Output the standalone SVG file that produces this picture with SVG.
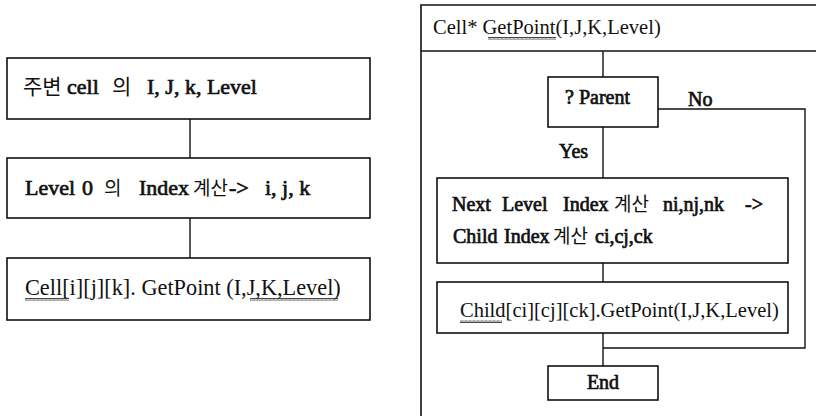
<svg xmlns="http://www.w3.org/2000/svg" width="816" height="416" viewBox="0 0 816 416">
  <defs>
    <style>
      .box { fill: #ffffff; stroke: #111111; stroke-width: 1.6; }
      .frame { fill: none; stroke: #111111; stroke-width: 1.6; }
      .link { fill: none; stroke: #111111; stroke-width: 1.4; }
      .t { font-family: "Liberation Serif", serif; font-size: 20px; fill: #111111; }
      .l { font-size: 22px; }
      .b { stroke: #111111; stroke-width: 0.7; }
      .ko { font-family: "Noto Sans CJK KR", sans-serif; font-size: 19px; stroke: none; }
      .ko21 { font-size: 21px; }
      .sq { fill: none; stroke: #333333; stroke-width: 0.9; }
    </style>
    <!-- small zig-zag used for the squiggly underlines -->
    <pattern id="zig" width="4" height="3" patternUnits="userSpaceOnUse">
      <path d="M0 2.5 L1 0.5 L2 2.5 L3 0.5 L4 2.5" class="sq"/>
    </pattern>
  </defs>
  <rect width="816" height="416" fill="#ffffff"/>

  <!-- connectors -->
  <g id="connectors">
    <line class="link" x1="190" y1="119" x2="190" y2="158"/>
    <line class="link" x1="190" y1="218" x2="190" y2="258"/>
    <line class="link" x1="603" y1="51" x2="603" y2="77"/>
    <line class="link" x1="603" y1="127" x2="603" y2="178"/>
    <polyline class="link" points="658,109 805,109 805,348 603,348"/>
    <line class="link" x1="603" y1="263" x2="603" y2="282"/>
    <line class="link" x1="603" y1="333" x2="603" y2="366"/>
    <text class="t b" x="688" y="106">No</text>
    <text class="t b" x="559" y="158">Yes</text>
  </g>

  <!-- left flow -->
  <g id="node-neighbor">
    <rect class="box" x="7" y="58" width="363" height="61"/>
    <text class="t l b" y="94"><tspan class="ko ko21" x="23">주변</tspan><tspan x="67">cell</tspan><tspan class="ko ko21" x="112">의</tspan><tspan x="147">I, J, k, Level</tspan></text>
  </g>
  <g id="node-level0">
    <rect class="box" x="7" y="158" width="363" height="60"/>
    <text class="t l b" y="195"><tspan x="25">Level</tspan><tspan x="82">0</tspan><tspan class="ko" x="104">의</tspan><tspan x="139">Index</tspan><tspan class="ko" x="193">계산</tspan><tspan x="229">-&gt;</tspan><tspan x="265">i, j, k</tspan></text>
  </g>
  <g id="node-cell-getpoint">
    <rect class="box" x="7" y="258" width="363" height="62"/>
    <text class="t" x="25" y="295" style="font-size:22.3px">Cell[i][j][k]. GetPoint (I,J,K,Level)</text>
    <rect x="25" y="298" width="44" height="3" fill="url(#zig)"/>
    <rect x="250" y="298" width="88" height="3" fill="url(#zig)"/>
  </g>

  <!-- right function -->
  <g id="node-function">
    <polyline class="frame" points="816,5 421,5 421,416"/>
    <line class="frame" x1="421" y1="51" x2="816" y2="51"/>
    <text class="t" x="433" y="34" style="font-size:20.5px">Cell* GetPoint(I,J,K,Level)</text>
    <rect x="488" y="37" width="68" height="3" fill="url(#zig)"/>
  </g>
  <g id="node-parent">
    <rect class="box" x="548" y="77" width="110" height="50"/>
    <text class="t b" x="565" y="104">? Parent</text>
  </g>
  <g id="node-index">
    <rect class="box" x="437" y="178" width="351" height="85"/>
    <text class="t b" y="211"><tspan x="452">Next</tspan><tspan x="502">Level</tspan><tspan x="563">Index</tspan><tspan class="ko" x="614">계산</tspan><tspan x="663">ni,nj,nk</tspan><tspan x="745">-&gt;</tspan></text>
    <text class="t b" y="243"><tspan x="453">Child</tspan><tspan x="504">Index</tspan><tspan class="ko" x="553">계산</tspan><tspan x="595">ci,cj,ck</tspan></text>
  </g>
  <g id="node-child-getpoint">
    <rect class="box" x="437" y="282" width="351" height="51"/>
    <text class="t" x="460" y="317" style="font-size:20.5px">Child[ci][cj][ck].GetPoint(I,J,K,Level)</text>
    <rect x="460" y="320" width="42" height="3" fill="url(#zig)"/>
  </g>
  <g id="node-end">
    <rect class="box" x="548" y="366" width="110" height="34"/>
    <text class="t b" x="603" y="389" text-anchor="middle">End</text>
  </g>
</svg>
